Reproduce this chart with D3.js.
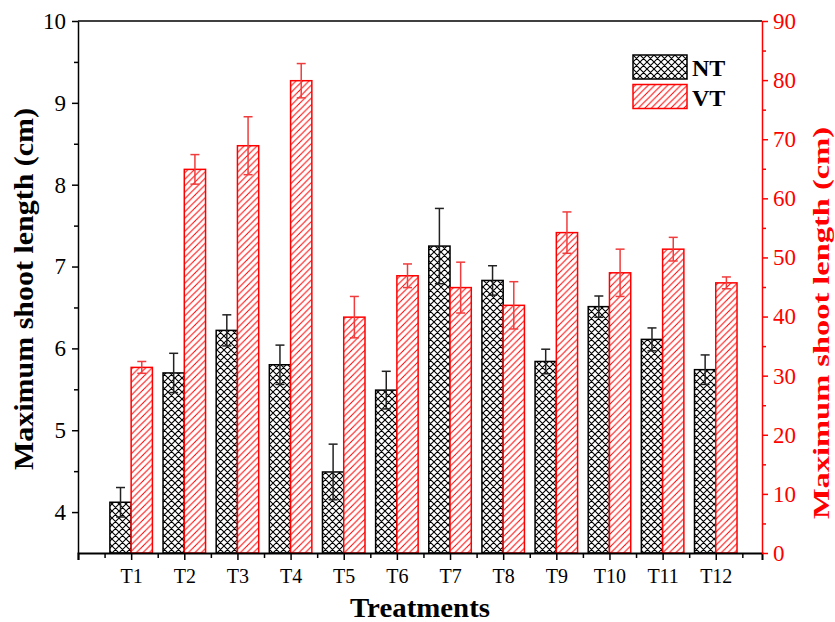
<!DOCTYPE html>
<html>
<head>
<meta charset="utf-8">
<script src="https://cdn.jsdelivr.net/npm/d3@7"></script>
<style>
  body { margin: 0; background: #fff; }
</style>
</head>
<body>
<svg id="chart" width="835" height="622"></svg>
<script>
// values
let treatments = ['T1', 'T2', 'T3', 'T4', 'T5', 'T6', 'T7', 'T8', 'T9', 'T10', 'T11', 'T12'];
let ntMean = [4.12, 5.70, 6.22, 5.80, 4.49, 5.49, 7.25, 6.83, 5.84, 6.51, 6.11, 5.74];
let ntErr  = [0.18, 0.24, 0.19, 0.24, 0.34, 0.23, 0.46, 0.18, 0.15, 0.13, 0.14, 0.18];
let vtMean = [31.4, 64.9, 68.9, 79.9, 39.9, 46.9, 44.9, 41.9, 54.2, 47.4, 51.4, 45.7];
let vtErr  = [1.0, 2.5, 4.9, 2.9, 3.5, 2.0, 4.3, 4.0, 3.5, 4.0, 2.0, 1.0];
let leftTicks = [4, 5, 6, 7, 8, 9, 10];
let rightTicks = [0, 10, 20, 30, 40, 50, 60, 70, 80, 90];

let W = 835, H = 622;
let margin = {top: 21, right: 73, bottom: 69, left: 78};
let red = '#ff0000';
let serif = 'Liberation Serif';

let svg = d3.select('#chart').attr('font-family', serif);

let xScale = d3.scaleLinear()
    .domain([0, 12.87])
    .range([margin.left, W - margin.right]);

let yLeft = d3.scaleLinear()
    .domain([3.5, 10])
    .range([H - margin.bottom, margin.top]);

let yRight = d3.scaleLinear()
    .domain([0, 90])
    .range([H - margin.bottom, margin.top]);

let barW = xScale(0.4) - xScale(0);

// hatch patterns
let defs = svg.append('defs');

let cross = defs.append('pattern')
    .attr('id', 'crossHatch')
    .attr('patternUnits', 'userSpaceOnUse')
    .attr('width', 7).attr('height', 7);
cross.append('rect').attr('width', 7).attr('height', 7).attr('fill', 'white');
cross.append('path')
    .attr('d', 'M-1,1 l2,-2 M0,7 l7,-7 M6,8 l2,-2 M-1,6 l2,2 M0,0 l7,7 M6,-1 l2,2')
    .attr('stroke', 'black')
    .attr('stroke-width', 1.1);

let slash = defs.append('pattern')
    .attr('id', 'slashHatch')
    .attr('patternUnits', 'userSpaceOnUse')
    .attr('width', 6.5).attr('height', 6.5);
slash.append('rect').attr('width', 6.5).attr('height', 6.5).attr('fill', 'white');
slash.append('path')
    .attr('d', 'M-1,1 l2,-2 M0,6.5 l6.5,-6.5 M5.5,7.5 l2,-2')
    .attr('stroke', red)
    .attr('stroke-width', 1);

// bars
let plot = svg.append('g');

plot.selectAll('.ntBar')
    .data(ntMean)
    .join('rect')
    .classed('ntBar', true)
    .attr('x', (d, i) => xScale(i + 1) - barW)
    .attr('y', d => yLeft(d))
    .attr('width', barW)
    .attr('height', d => yLeft(3.5) - yLeft(d))
    .attr('fill', 'url(#crossHatch)')
    .attr('stroke', 'black')
    .attr('stroke-width', 1.5);

plot.selectAll('.vtBar')
    .data(vtMean)
    .join('rect')
    .classed('vtBar', true)
    .attr('x', (d, i) => xScale(i + 1))
    .attr('y', d => yRight(d))
    .attr('width', barW)
    .attr('height', d => yRight(0) - yRight(d))
    .attr('fill', 'url(#slashHatch)')
    .attr('stroke', red)
    .attr('stroke-width', 1.5);

// error bars
function errorBars(cls, means, errs, scale, offset, color){
    let g = plot.selectAll('.' + cls)
        .data(means)
        .join('g')
        .classed(cls, true)
        .attr('stroke', color)
        .attr('stroke-width', 1.5);
    let cx = (d, i) => xScale(i + 1) + offset;
    g.append('line')
        .attr('x1', cx).attr('x2', cx)
        .attr('y1', (d, i) => scale(d - errs[i]))
        .attr('y2', (d, i) => scale(d + errs[i]));
    g.append('line')
        .attr('x1', (d, i) => cx(d, i) - 4.5).attr('x2', (d, i) => cx(d, i) + 4.5)
        .attr('y1', (d, i) => scale(d + errs[i]))
        .attr('y2', (d, i) => scale(d + errs[i]));
    g.append('line')
        .attr('x1', (d, i) => cx(d, i) - 4.5).attr('x2', (d, i) => cx(d, i) + 4.5)
        .attr('y1', (d, i) => scale(d - errs[i]))
        .attr('y2', (d, i) => scale(d - errs[i]));
}
errorBars('ntErr', ntMean, ntErr, yLeft, -barW / 2, '#222');
errorBars('vtErr', vtMean, vtErr, yRight, barW / 2, '#f03c3c');

// frame top
svg.append('line')
    .attr('x1', margin.left).attr('x2', W - margin.right)
    .attr('y1', margin.top).attr('y2', margin.top)
    .attr('stroke', 'black').attr('stroke-width', 1.5);

// axes
let xAxis = svg.append('g')
    .attr('transform', `translate(0, ${H - margin.bottom})`)
    .call(d3.axisBottom(xScale)
        .tickValues(d3.range(0, 13))
        .tickFormat(d => d === 0 ? '' : treatments[d - 1])
        .tickSize(7).tickPadding(9));
let xMinor = svg.append('g')
    .attr('transform', `translate(0, ${H - margin.bottom})`)
    .call(d3.axisBottom(xScale)
        .tickValues(d3.range(0.5, 13, 1))
        .tickFormat('')
        .tickSize(5))
    .call(g => g.select('.domain').remove());

let leftAxis = svg.append('g')
    .attr('transform', `translate(${margin.left}, 0)`)
    .call(d3.axisLeft(yLeft).tickValues(leftTicks).tickFormat(d3.format('d'))
        .tickSize(6).tickPadding(6).tickSizeOuter(0));
let leftMinor = svg.append('g')
    .attr('transform', `translate(${margin.left}, 0)`)
    .call(d3.axisLeft(yLeft).tickValues(d3.range(4.5, 10, 1)).tickFormat('').tickSize(4))
    .call(g => g.select('.domain').remove());

let rightAxis = svg.append('g')
    .attr('transform', `translate(${W - margin.right}, 0)`)
    .call(d3.axisRight(yRight).tickValues(rightTicks).tickFormat(d3.format('d'))
        .tickSize(6).tickPadding(5).tickSizeOuter(0));
let rightMinor = svg.append('g')
    .attr('transform', `translate(${W - margin.right}, 0)`)
    .call(d3.axisRight(yRight).tickValues(d3.range(5, 90, 10)).tickFormat('').tickSize(4))
    .call(g => g.select('.domain').remove());

[xAxis, xMinor, leftAxis, leftMinor, rightAxis, rightMinor].forEach(g => {
    g.attr('font-family', serif);
    g.selectAll('.domain, .tick line').attr('stroke-width', 1.5);
});
xAxis.attr('font-size', 20);
leftAxis.attr('font-size', 23);
rightAxis.attr('font-size', 23);
xAxis.select('.domain').attr('stroke-width', 2);
[rightAxis, rightMinor].forEach(g => {
    g.selectAll('.domain, .tick line').attr('stroke', red);
    g.selectAll('.tick text').attr('fill', red);
});

// titles
svg.append('text')
    .attr('x', 420)
    .attr('y', 617)
    .attr('text-anchor', 'middle')
    .attr('font-size', 28)
    .attr('font-weight', 'bold')
    .attr('textLength', 140)
    .attr('lengthAdjust', 'spacingAndGlyphs')
    .text('Treatments');

svg.append('text')
    .attr('transform', 'translate(33, 289) rotate(-90)')
    .attr('text-anchor', 'middle')
    .attr('font-size', 28)
    .attr('font-weight', 'bold')
    .attr('textLength', 362)
    .attr('lengthAdjust', 'spacingAndGlyphs')
    .text('Maximum shoot length (cm)');

svg.append('text')
    .attr('transform', 'translate(829, 323) rotate(-90)')
    .attr('text-anchor', 'middle')
    .attr('font-size', 24)
    .attr('font-weight', 'bold')
    .attr('fill', red)
    .attr('textLength', 392)
    .attr('lengthAdjust', 'spacingAndGlyphs')
    .text('Maximum shoot length (cm)');

// legend
let legend = svg.append('g').attr('transform', 'translate(633, 55)');
let legendItems = [
    {label: 'NT', fill: 'url(#crossHatch)', stroke: 'black'},
    {label: 'VT', fill: 'url(#slashHatch)', stroke: red}
];
legend.selectAll('rect')
    .data(legendItems)
    .join('rect')
    .attr('x', 0)
    .attr('y', (d, i) => i * 29.5)
    .attr('width', 54)
    .attr('height', 24)
    .attr('fill', d => d.fill)
    .attr('stroke', d => d.stroke)
    .attr('stroke-width', 1.5);
legend.selectAll('text')
    .data(legendItems)
    .join('text')
    .attr('x', 59)
    .attr('y', (d, i) => i * 29.5 + 21)
    .attr('font-size', 24)
    .attr('font-weight', 'bold')
    .text(d => d.label);
</script>
</body>
</html>
